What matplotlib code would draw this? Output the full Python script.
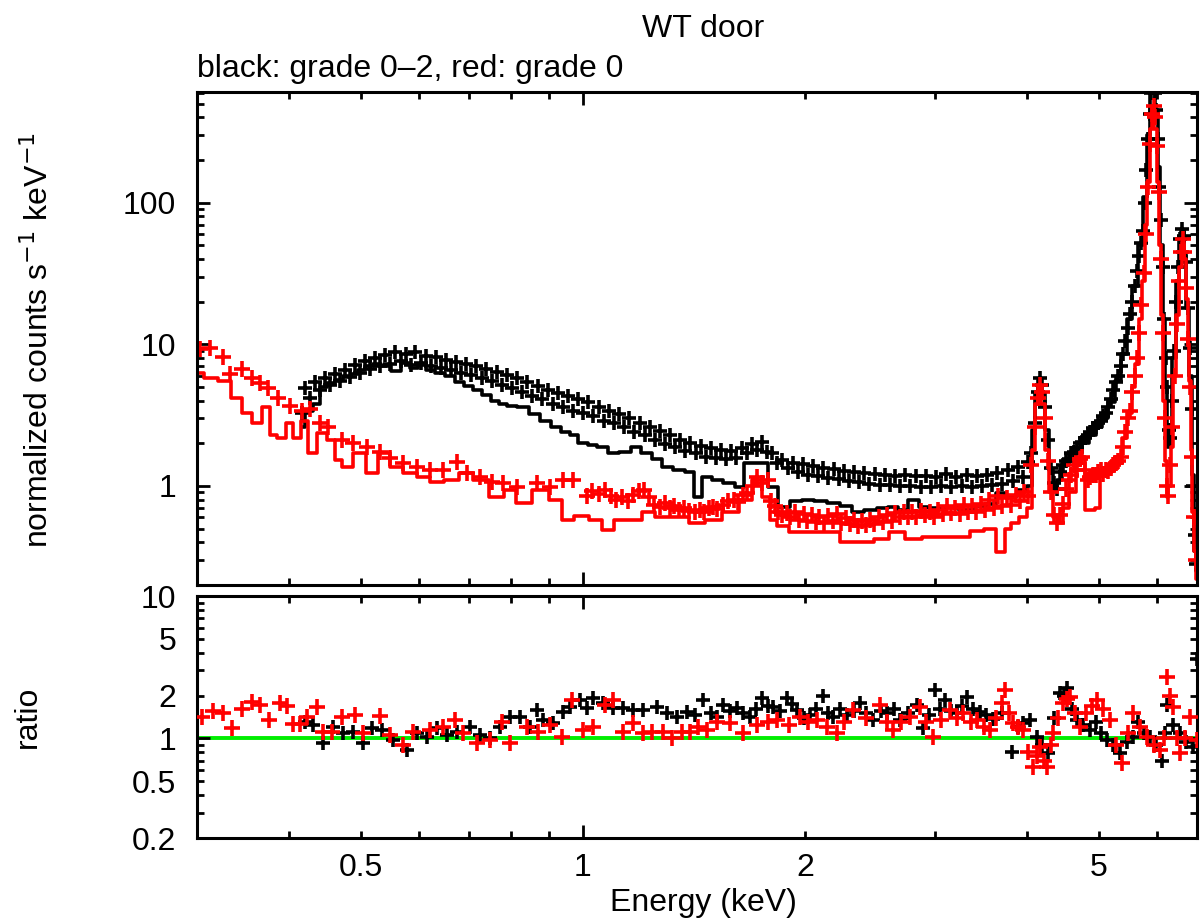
import matplotlib
matplotlib.use("Agg")
import matplotlib.pyplot as plt
from matplotlib.ticker import FixedLocator, FuncFormatter, NullFormatter

plt.rcParams['font.family'] = ['Liberation Sans', 'DejaVu Sans']

# ---------------- spectrum: grade 0-2 (black) ----------------
bk_E = [0.416, 0.420, 0.427, 0.434, 0.440, 0.447, 0.454, 0.461, 0.468, 0.476,
        0.483, 0.491, 0.499, 0.507, 0.515, 0.523, 0.531, 0.540, 0.548, 0.557,
        0.566, 0.575, 0.584, 0.593, 0.603, 0.612, 0.622, 0.632, 0.642, 0.652,
        0.662, 0.673, 0.684, 0.695, 0.706, 0.717, 0.729, 0.740, 0.752, 0.764,
        0.776, 0.789, 0.801, 0.814, 0.827, 0.840, 0.854, 0.868, 0.881, 0.896,
        0.910, 0.925, 0.939, 0.954, 0.970, 0.985, 1.001, 1.017, 1.033, 1.050,
        1.067, 1.084, 1.101, 1.119, 1.137, 1.155, 1.174, 1.193, 1.212, 1.231,
        1.251, 1.271, 1.291, 1.312, 1.333, 1.355, 1.376, 1.398, 1.421, 1.444,
        1.467, 1.490, 1.514, 1.539, 1.563, 1.589, 1.614, 1.640, 1.667, 1.693,
        1.720, 1.748, 1.776, 1.805, 1.834, 1.863, 1.893, 1.924, 1.955, 1.986,
        2.018, 2.050, 2.083, 2.117, 2.151, 2.185, 2.221, 2.256, 2.293, 2.330,
        2.367, 2.405, 2.444, 2.483, 2.523, 2.564, 2.605, 2.647, 2.690, 2.733,
        2.777, 2.822, 2.867, 2.913, 2.960, 3.008, 3.056, 3.105, 3.155, 3.206,
        3.258, 3.310, 3.363, 3.417, 3.472, 3.528, 3.585, 3.643, 3.701, 3.761,
        3.821, 3.883, 3.945, 4.009,
        4.05, 4.09, 4.13, 4.16, 4.19, 4.23, 4.27, 4.31, 4.35, 4.39,
        4.43, 4.47, 4.51, 4.55, 4.59, 4.63, 4.67, 4.71, 4.75, 4.79,
        4.83, 4.87, 4.91, 4.95, 4.99, 5.03, 5.07, 5.11, 5.15, 5.19,
        5.23, 5.27, 5.31, 5.35, 5.39, 5.43, 5.47, 5.51, 5.55, 5.59,
        5.63, 5.67, 5.71, 5.74, 5.77, 5.80, 5.83, 5.86, 5.89, 5.92,
        5.95, 5.98, 6.01, 6.04, 6.07, 6.10, 6.13, 6.16, 6.19, 6.22,
        6.25, 6.28, 6.32, 6.36, 6.40, 6.44, 6.48, 6.52, 6.56, 6.60,
        6.64, 6.68, 6.71, 6.74, 6.77]
bk_V = [3.3, 4.9, 4.2, 5.4, 4.8, 5.8, 5.2, 6.2, 5.5, 6.6,
        5.9, 7.1, 6.3, 7.6, 6.7, 8.0, 7.0, 8.4, 7.3, 8.8,
        7.6, 8.6, 7.2, 8.9, 7.4, 8.3, 7.0, 8.1, 6.8, 7.8,
        6.6, 7.5, 6.3, 7.3, 6.1, 7.0, 5.8, 6.7, 5.5, 6.4,
        5.2, 6.1, 4.9, 5.8, 4.6, 5.4, 4.3, 5.1, 4.1, 4.8,
        3.8, 4.5, 3.6, 4.3, 3.4, 4.1, 3.3, 3.9, 3.1, 3.6,
        2.9, 3.4, 2.8, 3.2, 2.6, 3.0, 2.4, 2.8, 2.3, 2.6,
        2.1, 2.45, 1.98, 2.3, 1.88, 2.12, 1.78, 2.02, 1.7, 1.92,
        1.6, 1.86, 1.58, 1.8, 1.55, 1.78, 1.58, 1.84, 1.7, 1.98,
        1.8, 2.05, 1.75, 1.7, 1.45, 1.52, 1.33, 1.46, 1.26, 1.42,
        1.2, 1.38, 1.18, 1.35, 1.14, 1.32, 1.12, 1.28, 1.08, 1.26,
        1.06, 1.24, 1.04, 1.22, 1.02, 1.19, 1.02, 1.18, 1.0, 1.19,
        1.0, 1.17, 0.99, 1.18, 0.98, 1.16, 1.0, 1.22, 0.98, 1.16,
        1.0, 1.2, 0.99, 1.18, 1.0, 1.19, 1.02, 1.24, 1.04, 1.3,
        1.08, 1.36, 1.16, 1.48,
        1.7, 2.8, 4.6, 5.8, 5.2, 3.6, 2.1, 1.35, 1.05, 0.96,
        1.25, 1.4, 1.5, 1.55, 1.7, 1.75, 1.85, 2.0, 2.05, 2.2,
        2.3, 2.4, 2.55, 2.6, 2.8, 2.9, 3.1, 3.3, 3.6, 4.1,
        4.8, 5.4, 6.0, 7.0, 8.5, 10.5, 13, 16.5, 20, 26,
        33, 42, 52, 63, 100, 170, 280, 420, 600, 650,
        600, 450, 280, 130, 75, 35, 15, 8, 5, 2.5,
        2.2, 4, 9, 20, 35, 55, 65, 58, 38, 18,
        9.4, 3.5, 1.0, 0.45, 0.28]

# folded model, grade 0-2
bm_E = [0.416, 0.425, 0.436, 0.444, 0.455, 0.467, 0.48, 0.49, 0.50, 0.513,
        0.526, 0.54, 0.56, 0.575, 0.59, 0.605, 0.62, 0.64, 0.66, 0.68,
        0.70, 0.72, 0.74, 0.76, 0.78, 0.80, 0.83, 0.86, 0.89, 0.92,
        0.95, 0.97, 1.0, 1.03, 1.06, 1.10, 1.14, 1.18, 1.22, 1.26,
        1.30, 1.35, 1.40, 1.43, 1.47, 1.52, 1.58, 1.63, 1.68, 1.75,
        1.81, 1.87, 1.95, 2.01, 2.1, 2.18, 2.28, 2.35, 2.45, 2.55,
        2.63, 2.72, 2.8, 2.9, 2.98, 3.06, 3.17, 3.3, 3.45, 3.58,
        3.67, 3.8, 3.95, 4.03, 4.08, 4.12, 4.16, 4.2, 4.25, 4.3,
        4.36, 4.42, 4.5, 4.6, 4.7, 4.8, 4.9, 5.0, 5.1, 5.2,
        5.3, 5.4, 5.5, 5.6, 5.7, 5.78, 5.84, 5.9, 5.94, 5.98,
        6.03, 6.08, 6.12, 6.17, 6.21, 6.26, 6.32, 6.38, 6.44, 6.49,
        6.54, 6.6, 6.65, 6.7, 6.75, 6.79]
bm_V = [2.6, 3.4, 3.8, 5.0, 5.3, 5.6, 6.0, 6.2, 6.6, 7.0,
        7.3, 7.0, 6.5, 7.4, 6.8, 7.2, 6.6, 6.3, 6.0, 5.4,
        5.1, 4.8, 4.4, 4.0, 3.8, 3.7, 3.6, 3.2, 2.9, 2.6,
        2.4, 2.3, 2.0, 1.95, 1.88, 1.7, 1.75, 1.88, 1.7, 1.55,
        1.36, 1.3, 1.25, 0.84, 1.16, 1.1, 1.05, 0.98, 1.45, 1.45,
        0.98, 0.71, 0.78, 0.8, 0.78, 0.76, 0.72, 0.65, 0.68, 0.7,
        0.71, 0.68, 0.8, 0.71, 0.7, 0.7, 0.71, 0.68, 0.72, 0.75,
        0.89, 0.85, 0.94, 1.0, 2.5, 4.5, 5.6, 4.5, 2.5, 1.3,
        0.95, 1.1, 1.45, 1.5, 1.7, 2.0, 2.3, 2.6, 3.0, 3.9,
        5.5, 8.5, 15, 26, 50, 110, 300, 600, 620, 450,
        180, 50, 15, 5, 1.9, 2.5, 8, 28, 55, 63,
        45, 18, 6, 1.2, 0.35, 0.25]

# ---------------- spectrum: grade 0 (red) ----------------
rd_E = [0.3027, 0.3124, 0.3253, 0.3324, 0.3451, 0.356, 0.3649, 0.3742, 0.3861, 0.4009,
        0.4161, 0.4266, 0.4401, 0.4512, 0.4713, 0.4878, 0.5096, 0.5307, 0.5476, 0.5703,
        0.5958, 0.6205, 0.6461, 0.675, 0.6963, 0.7251, 0.7529, 0.7791, 0.8138, 0.8663,
        0.9022, 0.9395, 0.9692,
        1.012, 1.03, 1.05, 1.07, 1.09, 1.11, 1.13, 1.15, 1.17, 1.19,
        1.21, 1.23, 1.25, 1.27, 1.29, 1.31, 1.33, 1.35, 1.37, 1.39,
        1.42, 1.44, 1.46, 1.48, 1.50, 1.52, 1.55, 1.57, 1.60, 1.62,
        1.65, 1.67, 1.70, 1.72, 1.75, 1.78, 1.80,
        1.82, 1.84, 1.86, 1.89, 1.91, 1.94, 1.96, 1.99, 2.01, 2.04,
        2.07, 2.09, 2.12, 2.15, 2.18, 2.21, 2.24, 2.27, 2.30, 2.33,
        2.36, 2.39, 2.42, 2.45, 2.48, 2.52, 2.55, 2.58, 2.62, 2.65,
        2.69, 2.72, 2.76, 2.79, 2.83, 2.87, 2.91, 2.95, 2.99, 3.03,
        3.07, 3.11, 3.15, 3.19, 3.24, 3.28, 3.32, 3.37, 3.41, 3.46,
        3.51, 3.55, 3.60, 3.65, 3.70, 3.75, 3.80, 3.86, 3.91, 3.96,
        4.01,
        4.05, 4.09, 4.13, 4.16, 4.19, 4.23, 4.27, 4.31, 4.35, 4.39,
        4.43, 4.47, 4.51, 4.55, 4.59, 4.63, 4.67, 4.71, 4.75, 4.79,
        4.83, 4.87, 4.91, 4.95, 4.99, 5.03, 5.07, 5.11, 5.15, 5.19,
        5.23, 5.27, 5.31, 5.35, 5.39, 5.43, 5.47, 5.51, 5.55, 5.59,
        5.63, 5.67, 5.71, 5.75, 5.79, 5.83, 5.87, 5.90, 5.93, 5.96,
        5.99, 6.03, 6.07, 6.11, 6.15, 6.18, 6.21, 6.25, 6.29, 6.33,
        6.37, 6.41, 6.45, 6.49, 6.53, 6.57, 6.61, 6.65, 6.69, 6.73,
        6.77]
rd_V = [9.3, 9.5, 8.2, 6.2, 6.7, 5.8, 5.3, 4.9, 4.2, 3.7,
        3.4, 3.5, 2.8, 2.6, 2.1, 2.0, 1.88, 1.73, 1.57, 1.45,
        1.36, 1.3, 1.3, 1.47, 1.23, 1.16, 1.07, 1.05, 0.98, 1.05,
        0.98, 1.1, 1.1,
        0.85, 0.92, 0.88, 0.94, 0.85, 0.8, 0.83, 0.78, 0.86, 0.92,
        0.94, 0.84, 0.74, 0.71, 0.76, 0.7, 0.72, 0.68, 0.7, 0.67,
        0.65, 0.68, 0.66, 0.7, 0.71, 0.69, 0.74, 0.78, 0.8, 0.77,
        0.86, 0.89, 1.0, 1.16, 1.05, 1.1, 0.78,
        0.72, 0.66, 0.62, 0.64, 0.6, 0.66, 0.58, 0.63, 0.57, 0.62,
        0.56, 0.6, 0.55, 0.61, 0.57, 0.63, 0.55, 0.59, 0.54, 0.58,
        0.52, 0.57, 0.53, 0.58, 0.54, 0.6, 0.56, 0.62, 0.57, 0.64,
        0.6, 0.66, 0.6, 0.65, 0.6, 0.67, 0.62, 0.66, 0.6, 0.68,
        0.63, 0.72, 0.64, 0.7, 0.63, 0.73, 0.66, 0.72, 0.65, 0.75,
        0.68, 0.8, 0.7, 0.85, 0.72, 0.82, 0.74, 0.86, 0.78, 0.9,
        0.85,
        1.4, 2.6, 4.2, 5.2, 4.6, 3.0, 1.5, 0.9, 0.62, 0.55,
        0.62, 0.75, 0.95, 1.1, 1.2, 1.4, 1.3, 1.55, 1.6, 1.3,
        1.1, 1.15, 1.2, 1.2, 1.25, 1.3, 1.22, 1.3, 1.28, 1.35,
        1.4, 1.45, 1.5, 1.6, 1.9, 2.4, 3.0, 3.4, 4.6, 6.0,
        8.0, 12, 19, 32, 60, 130, 260, 420, 480, 400,
        250, 120, 40, 12, 3, 1.0, 0.85, 1.4, 2.6, 6,
        14, 28, 45, 55, 45, 25, 11, 5, 1.6, 0.6,
        0.3]

# folded model, grade 0
rm_E = [0.300, 0.3124, 0.3273, 0.3398, 0.3505, 0.3616, 0.373, 0.3801, 0.3909, 0.4009,
        0.4097, 0.42, 0.4293, 0.4428, 0.4583, 0.4641, 0.4787, 0.4986, 0.5192, 0.5357,
        0.5597, 0.5829, 0.6071, 0.6342, 0.6604, 0.6963, 0.7251, 0.7647, 0.7963, 0.8292,
        0.8743, 0.9221, 0.9513, 0.9907, 1.045, 1.078, 1.122, 1.184, 1.221, 1.284,
        1.353, 1.427, 1.5, 1.582, 1.668, 1.721, 1.776, 1.809, 1.849, 1.95,
        2.049, 2.181, 2.279, 2.426, 2.526, 2.664, 2.8, 2.952, 3.113, 3.273,
        3.42, 3.56, 3.7, 3.75, 3.85, 3.95, 4.03, 4.08, 4.12, 4.16,
        4.2, 4.25, 4.3, 4.36, 4.43, 4.5, 4.6, 4.7, 4.76, 4.82,
        4.91, 4.98, 5.05, 5.13, 5.25, 5.34, 5.42, 5.51, 5.57, 5.63,
        5.69, 5.74, 5.79, 5.83, 5.88, 5.92, 5.96, 6.01, 6.05, 6.09,
        6.13, 6.16, 6.19, 6.23, 6.28, 6.33, 6.38, 6.44, 6.50, 6.55,
        6.58, 6.62, 6.64, 6.68, 6.71, 6.75, 6.79]
rm_V = [6.3, 5.8, 5.5, 4.2, 3.25, 2.8, 3.6, 2.3, 2.2, 2.8,
        2.2, 2.9, 1.7, 2.35, 2.1, 1.52, 1.36, 1.7, 1.23, 1.7,
        1.36, 1.23, 1.16, 1.07, 1.1, 1.23, 1.1, 0.84, 0.94, 0.76,
        0.94, 0.8, 0.58, 0.61, 0.58, 0.49, 0.58, 0.58, 0.65, 0.6,
        0.6, 0.55, 0.58, 0.65, 0.8, 1.1, 0.84, 0.58, 0.52, 0.47,
        0.47, 0.47, 0.4, 0.4, 0.42, 0.47, 0.42, 0.44, 0.44, 0.44,
        0.48, 0.5, 0.34, 0.5, 0.55, 0.6, 0.7, 1.8, 3.8, 5.0,
        3.8, 1.8, 0.9, 0.6, 0.55, 0.7, 0.9, 1.5, 1.6, 0.68,
        0.68, 0.7, 1.2, 1.23, 1.4, 1.45, 2.2, 3.25, 5, 7.3,
        15, 28, 70, 140, 330, 470, 330, 140, 50, 16,
        4, 1.5, 0.84, 1.0, 1.9, 6, 16, 35, 53, 40,
        21, 10, 5.5, 1.8, 0.65, 0.35, 0.22]

# ---------------- data / model ratio ----------------
bkr_E = [0.420, 0.431, 0.444, 0.458, 0.473, 0.488, 0.503, 0.518, 0.534, 0.553,
         0.578, 0.596, 0.615, 0.634, 0.654, 0.675, 0.703, 0.725, 0.748, 0.772,
         0.796, 0.821, 0.848, 0.866, 0.883, 0.911, 0.940, 0.960, 0.991, 1.013,
         1.032, 1.064, 1.098, 1.133, 1.169, 1.206, 1.260, 1.300, 1.341, 1.383,
         1.42, 1.454, 1.49, 1.519, 1.548, 1.58, 1.617, 1.65, 1.684, 1.715,
         1.748, 1.78, 1.809, 1.85, 1.89, 1.92, 1.95, 1.99, 2.03, 2.07,
         2.114, 2.15, 2.181, 2.23, 2.279, 2.33, 2.373, 2.42, 2.472, 2.53,
         2.582, 2.64, 2.689, 2.76, 2.835, 2.888, 2.94, 2.999, 3.05, 3.094,
         3.15, 3.212, 3.26, 3.314, 3.38, 3.451, 3.52, 3.594, 3.70, 3.813,
         3.88, 3.947, 4.03, 4.123, 4.19, 4.267, 4.35, 4.43, 4.48, 4.527,
         4.60, 4.671, 4.76, 4.864, 4.95, 5.04, 5.129, 5.23, 5.341, 5.45,
         5.562, 5.65, 5.75, 5.864, 5.98, 6.089, 6.14, 6.184, 6.30, 6.44,
         6.57, 6.708, 6.79]
bkr_V = [1.3, 1.24, 0.93, 1.2, 1.09, 1.11, 0.93, 1.18, 1.15, 0.98,
         0.83, 1.09, 1.03, 1.18, 1.06, 1.11, 1.2, 1.06, 1.0, 1.2,
         1.41, 1.41, 1.2, 1.58, 1.35, 1.28, 1.53, 1.66, 1.86, 1.63,
         1.92, 1.78, 1.63, 1.63, 1.58, 1.58, 1.66, 1.5, 1.41, 1.53,
         1.45, 1.86, 1.5, 1.41, 1.72, 1.55, 1.63, 1.5, 1.41, 1.6,
         1.92, 1.7, 1.66, 1.55, 1.92, 1.75, 1.58, 1.4, 1.46, 1.6,
         2.0, 1.5, 1.41, 1.6, 1.46, 1.55, 1.78, 1.5, 1.35, 1.55,
         1.5, 1.62, 1.35, 1.5, 1.72, 1.18, 1.45, 2.2, 1.6, 1.86,
         1.55, 1.5, 1.7, 1.96, 1.6, 1.53, 1.45, 1.38, 1.5, 0.8,
         1.2, 1.28, 1.35, 1.02, 0.9, 0.79, 1.4, 2.09, 2.0, 2.26,
         1.6, 1.35, 1.25, 1.15, 1.3, 1.1, 0.98, 0.9, 0.79, 0.95,
         1.02, 1.3, 1.1, 1.02, 0.9, 0.7, 1.1, 1.72, 1.25, 1.09,
         0.95, 0.87, 3.6]

rdr_E = [0.3046, 0.3152, 0.3253, 0.3345, 0.3451, 0.356, 0.3649, 0.3754, 0.3885, 0.3971,
         0.4046, 0.4136, 0.4227, 0.436, 0.4442, 0.4569, 0.4713, 0.4909, 0.5033, 0.5307,
         0.5476, 0.5703, 0.5884, 0.6205, 0.6461, 0.6708, 0.6877, 0.7184, 0.7482, 0.7767,
         0.7963, 0.8397, 0.8689, 0.9022, 0.9365, 0.9663, 1.0, 1.032, 1.071, 1.098,
         1.133, 1.169, 1.206, 1.24, 1.284, 1.32, 1.362, 1.396, 1.43, 1.472,
         1.52, 1.582, 1.65, 1.721, 1.78, 1.832, 1.90, 1.968, 2.02, 2.075,
         2.14, 2.209, 2.26, 2.322, 2.42, 2.526, 2.58, 2.631, 2.70, 2.774,
         2.862, 2.92, 2.98, 3.06, 3.143, 3.21, 3.273, 3.35, 3.419, 3.49,
         3.561, 3.63, 3.696, 3.731, 3.78, 3.825, 3.89, 3.947, 4.01, 4.072,
         4.12, 4.162, 4.21, 4.254, 4.30, 4.334, 4.40, 4.471, 4.52, 4.57,
         4.64, 4.714, 4.80, 4.89, 4.971, 5.07, 5.177, 5.28, 5.375, 5.47,
         5.562, 5.68, 5.81, 5.93, 6.05, 6.12, 6.184, 6.24, 6.301, 6.37,
         6.44, 6.54, 6.645, 6.792]
rdr_V = [1.41, 1.56, 1.5, 1.18, 1.6, 1.8, 1.72, 1.35, 1.78, 1.7,
         1.26, 1.26, 1.41, 1.66, 1.11, 1.11, 1.41, 1.46, 1.09, 1.43,
         1.06, 0.9, 1.11, 1.15, 1.2, 1.35, 1.09, 0.93, 0.98, 1.3,
         0.93, 1.2, 1.11, 1.24, 1.03, 1.86, 1.15, 1.2, 1.72, 1.86,
         1.11, 1.28, 1.09, 1.11, 1.11, 1.0, 1.11, 1.11, 1.2, 1.15,
         1.3, 1.28, 1.1, 1.24, 1.3, 1.35, 1.25, 1.41, 1.3, 1.35,
         1.2, 1.09, 1.3, 1.58, 1.4, 1.72, 1.3, 1.15, 1.3, 1.41,
         1.66, 1.3, 1.02, 1.35, 1.58, 1.4, 1.5, 1.3, 1.35, 1.2,
         1.15, 1.4, 1.78, 2.2, 1.5, 1.28, 1.2, 1.15, 0.8, 0.63,
         0.75, 0.87, 0.7, 0.63, 0.9, 1.09, 1.4, 1.78, 1.9, 1.96,
         1.5, 1.2, 1.5, 1.7, 1.86, 1.6, 1.35, 0.9, 0.67, 1.1,
         1.5, 1.2, 1.02, 0.9, 0.83, 1.0, 2.7, 2.0, 1.66, 1.0,
         0.79, 1.0, 1.41, 0.98]

# tick positions and labels
x_major = [1]
x_minor = [0.4, 0.5, 0.6, 0.7, 0.8, 0.9, 2, 3, 4, 5, 6]
x_minor_labels = {0.5: "0.5", 2: "2", 5: "5"}
top_y_major = [1, 10, 100]
top_y_minor = [0.2, 0.3, 0.4, 0.5, 0.6, 0.7, 0.8, 0.9,
               2, 3, 4, 5, 6, 7, 8, 9,
               20, 30, 40, 50, 60, 70, 80, 90,
               200, 300, 400, 500, 600]
ratio_y_major = [1, 10]
ratio_y_minor = [0.2, 0.3, 0.4, 0.5, 0.6, 0.7, 0.8, 0.9, 2, 3, 4, 5, 6, 7, 8, 9]
ratio_y_minor_labels = {0.2: "0.2", 0.5: "0.5", 2: "2", 5: "5"}

W, H = 1200, 923
fig = plt.figure(figsize=(W / 100, H / 100), dpi=100)
fig.patch.set_facecolor("white")

def px_axes(left, top, right, bottom):
    return fig.add_axes([left / W, 1 - bottom / H, (right - left) / W, (bottom - top) / H])

ax1 = px_axes(197, 92, 1197, 585)
ax2 = px_axes(197, 596, 1197, 838)

FS = 23
for ax in (ax1, ax2):
    ax.set_xscale("log")
    ax.set_yscale("log")
    ax.set_xlim(0.3, 6.79)
    for s in ax.spines.values():
        s.set_linewidth(2.2)
    ax.xaxis.set_major_locator(FixedLocator(x_major))
    ax.xaxis.set_minor_locator(FixedLocator(x_minor))
    ax.tick_params(which="both", direction="in", top=True, right=True,
                   width=2.0, labelsize=FS)
    ax.tick_params(which="major", length=9.5)
    ax.tick_params(which="minor", length=5)
    ax.tick_params(axis="y", which="both", pad=15)
    ax.tick_params(axis="x", which="both", pad=11)

# upper panel
ax1.set_ylim(0.2, 605)
ax1.yaxis.set_major_locator(FixedLocator(top_y_major))
ax1.yaxis.set_minor_locator(FixedLocator(top_y_minor))
ax1.yaxis.set_major_formatter(FuncFormatter(lambda v, p: "%g" % v))
ax1.yaxis.set_minor_formatter(NullFormatter())
ax1.xaxis.set_major_formatter(NullFormatter())
ax1.xaxis.set_minor_formatter(NullFormatter())

ax1.plot(bk_E, bk_V, ls="none", marker="+", ms=10, mew=2.6, color="black")
ax1.step(bm_E, bm_V, where="mid", lw=2.6, color="black")
ax1.plot(rd_E, rd_V, ls="none", marker="+", ms=11, mew=2.6, color="#ff0000")
ax1.step(rm_E, rm_V, where="mid", lw=2.6, color="#ff0000")

# ratio panel
ax2.set_ylim(0.2, 10)
ax2.yaxis.set_major_locator(FixedLocator(ratio_y_major))
ax2.yaxis.set_minor_locator(FixedLocator(ratio_y_minor))
ax2.yaxis.set_major_formatter(FuncFormatter(lambda v, p: "%g" % v))
ax2.yaxis.set_minor_formatter(FuncFormatter(lambda v, p: ratio_y_minor_labels.get(round(v, 3), "")))
ax2.xaxis.set_major_formatter(FuncFormatter(lambda v, p: "%g" % v))
ax2.xaxis.set_minor_formatter(FuncFormatter(lambda v, p: x_minor_labels.get(round(v, 3), "")))

ax2.axhline(1.0, color="#00ee00", lw=2.8, zorder=1)
ax2.plot(bkr_E, bkr_V, ls="none", marker="+", ms=10, mew=2.6, color="black", zorder=2)
ax2.plot(rdr_E, rdr_V, ls="none", marker="+", ms=11, mew=2.6, color="#ff0000", zorder=3)

# text
fig.text(703 / W, 1 - 37 / H, "WT door", ha="center", va="baseline", fontsize=FS)
fig.text(197 / W, 1 - 77 / H, "black: grade 0\u20132, red: grade 0", ha="left",
         va="baseline", fontsize=FS)
fig.text(39 / W, 1 - 340 / H, "normalized counts s$^{-1}$ keV$^{-1}$", rotation=90,
         ha="center", va="center", fontsize=FS)
fig.text(28 / W, 1 - 717 / H, "ratio", rotation=90, ha="center", va="center", fontsize=FS)
fig.text(703 / W, 1 - 903 / H, "Energy (keV)", ha="center", va="center", fontsize=FS)

fig.savefig("out.png", dpi=100, facecolor="white")
